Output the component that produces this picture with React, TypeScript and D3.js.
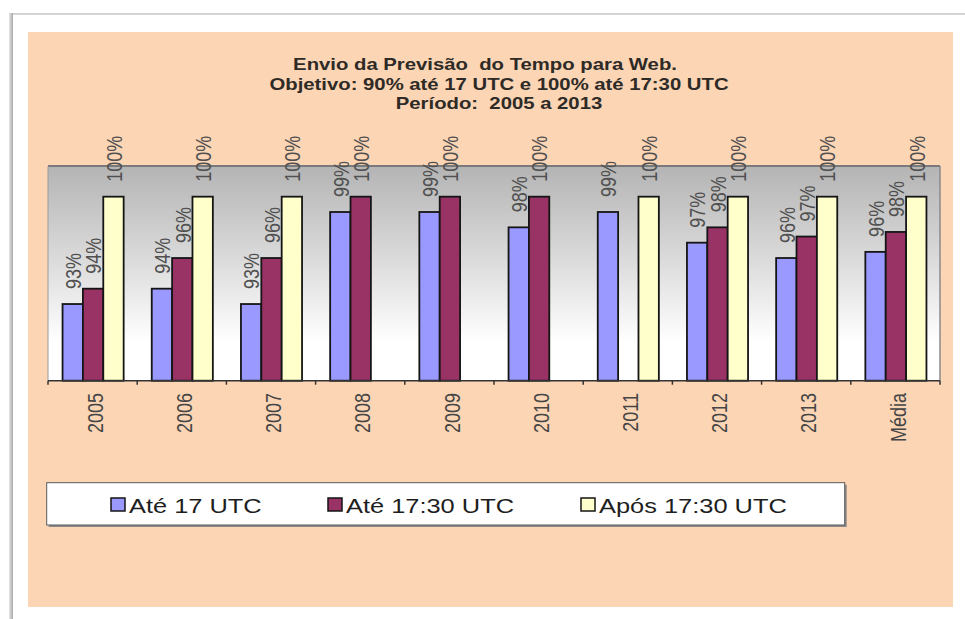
import React from "react";
import * as d3 from "d3";

const categories = ["2005", "2006", "2007", "2008", "2009", "2010", "2011", "2012", "2013", "Média"];
const ate17 = [93, 94, 93, 99, 99, 98, 99, 97, 96, 96.4];
const ate1730: (number | null)[] = [94, 96, 96, 100, 100, 100, null, 98, 97.4, 97.7];
const apos1730: (number | null)[] = [100, 100, 100, null, null, null, 100, 100, 100, 100];
const seriesNames = ["Até 17 UTC", "Até 17:30 UTC", "Após 17:30 UTC"];
const seriesColors = ["#9999FF", "#993366", "#FFFFCC"];
const titleLines = [
  "Envio da Previsão  do Tempo para Web.",
  "Objetivo: 90% até 17 UTC e 100% até 17:30 UTC",
  "Período:  2005 a 2013",
];
const yDomain = [88, 102];

const W = 965;
const H = 619;
const SX = 1.27; // horizontal stretch of the source picture's text
const FONT = "'Liberation Sans', Arial, sans-serif";

export default function App() {
  const plot = { left: 48, right: 940, top: 166, bottom: 380.7 };
  const x0 = d3.scaleBand<string>().domain(categories).range([plot.left, plot.right]).padding(0);
  const bw = x0.bandwidth();
  const groupW = bw * 0.685;
  const x1 = d3.scaleBand<number>().domain([0, 1, 2]).range([0, groupW]).padding(0);
  const groupOffset = (bw - groupW) / 2 + 0.5;
  const y = d3.scaleLinear().domain(yDomain).range([plot.bottom, plot.top]);
  const series = [ate17, ate1730, apos1730];

  const bars: { key: string; x: number; y: number; w: number; h: number; color: string; v: number }[] = [];
  series.forEach((vals, si) => {
    vals.forEach((v, ci) => {
      if (v == null) return;
      const c = categories[ci];
      const bx = (x0(c) as number) + groupOffset + (x1(si) as number);
      bars.push({
        key: `${si}-${ci}`,
        x: bx,
        y: y(v),
        w: x1.bandwidth(),
        h: y(yDomain[0]) - y(v),
        color: seriesColors[si],
        v,
      });
    });
  });

  const tickXs = [...categories.map((c) => x0(c) as number), plot.right];

  const legendBox = { x: 46.7, y: 482.7, w: 798, h: 42.3 };
  const legendItems = [110, 327, 580];

  return (
    <svg
      width={W}
      height={H}
      viewBox={`0 0 ${W} ${H}`}
      style={{ position: "absolute", left: 0, top: 0, background: "#ffffff" }}
      fontFamily={FONT}
    >
      <defs>
        <linearGradient id="plotGrad" x1="0" y1="0" x2="0" y2="1">
          <stop offset="0" stopColor="#b4b4b4" />
          <stop offset="0.45" stopColor="#dcdcdc" />
          <stop offset="0.82" stopColor="#ffffff" />
          <stop offset="1" stopColor="#ffffff" />
        </linearGradient>
        <linearGradient id="leftEdge" x1="0" y1="0" x2="1" y2="0">
          <stop offset="0" stopColor="#e6e6e6" />
          <stop offset="1" stopColor="#a8a8a8" />
        </linearGradient>
      </defs>

      {/* page card border */}
      <rect x={10} y={13} width={W - 10} height={2} fill="#d4d4d4" />
      <rect x={9} y={13} width={4} height={H - 13} fill="url(#leftEdge)" />

      {/* chart area */}
      <rect x={28} y={32} width={925} height={575} fill="#FCD5B5" />

      {/* title */}
      {titleLines.map((t, i) => (
        <g key={t} transform={`translate(${i === 0 ? 485 : 499},${70 + i * 19.5}) scale(${SX},1)`}>
          <text
            textAnchor="middle"
            fontSize={16}
            fontWeight="bold"
            fill="#2e2a26"
            style={{ whiteSpace: "pre" }}
          >
            {t}
          </text>
        </g>
      ))}

      {/* plot area */}
      <rect
        x={plot.left}
        y={plot.top}
        width={plot.right - plot.left}
        height={plot.bottom - plot.top}
        fill="url(#plotGrad)"
      />
      <line x1={plot.left} x2={plot.right} y1={plot.top} y2={plot.top} stroke="#7a7a7a" strokeWidth={2} />
      <line x1={plot.right} x2={plot.right} y1={plot.top} y2={plot.bottom} stroke="#8a8a8a" strokeWidth={1.5} />
      <line x1={plot.left} x2={plot.left} y1={plot.top} y2={plot.bottom} stroke="#9a9a9a" strokeWidth={1} />

      {/* bars */}
      {bars.map((b) => (
        <rect
          key={b.key}
          x={b.x}
          y={b.y}
          width={b.w}
          height={b.h}
          fill={b.color}
          stroke="#151515"
          strokeWidth={1.8}
        />
      ))}

      {/* data labels */}
      {bars.map((b) => (
        <g key={"l" + b.key} transform={`translate(${b.x + b.w / 2},${b.y - 15}) scale(${SX},1) rotate(-90)`}>
          <text fontSize={18} fill="#505050" dy="0.36em" textAnchor="start">
            {`${Math.round(b.v)}%`}
          </text>
        </g>
      ))}

      {/* x axis */}
      <line x1={plot.left} x2={plot.right} y1={plot.bottom} y2={plot.bottom} stroke="#333" strokeWidth={1.5} />
      {tickXs.map((tx, i) => (
        <line key={i} x1={tx} x2={tx} y1={plot.bottom} y2={plot.bottom + 4} stroke="#333" strokeWidth={1.5} />
      ))}
      {categories.map((c) => (
        <g key={c} transform={`translate(${(x0(c) as number) + bw / 2 + 2},393) scale(${SX},1) rotate(-90)`}>
          <text fontSize={18} fill="#454545" dy="0.36em" textAnchor="end">
            {c}
          </text>
        </g>
      ))}

      {/* legend */}
      <rect x={legendBox.x + 2} y={legendBox.y + 2} width={legendBox.w} height={legendBox.h} fill="#8a8a8a" />
      <rect
        x={legendBox.x}
        y={legendBox.y}
        width={legendBox.w}
        height={legendBox.h}
        fill="#ffffff"
        stroke="#5a5a5a"
        strokeWidth={1}
      />
      {seriesNames.map((n, i) => (
        <g key={n}>
          <rect
            x={legendItems[i] + 1}
            y={498}
            width={14}
            height={13}
            fill={seriesColors[i]}
            stroke="#151515"
            strokeWidth={1.5}
          />
          <g transform={`translate(${legendItems[i] + 19},512.5) scale(${SX},1)`}>
            <text fontSize={20} fill="#1e1e1e">
              {n}
            </text>
          </g>
        </g>
      ))}
    </svg>
  );
}
